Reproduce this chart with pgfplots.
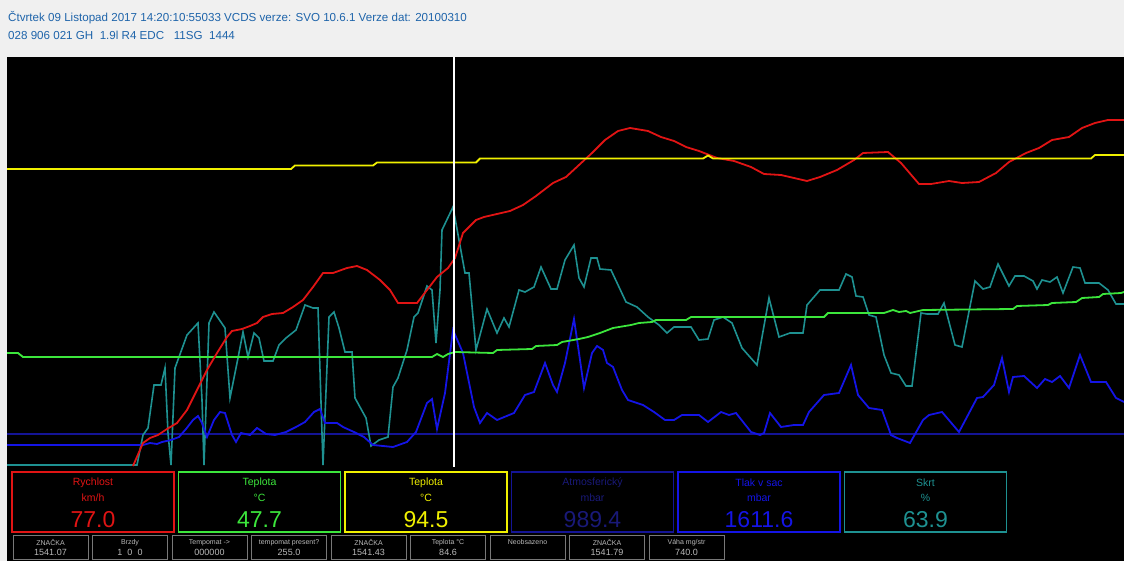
\documentclass[border=0pt]{standalone}
\usepackage{pgfplots}
\pgfplotsset{compat=1.18}
\usepackage{fontspec}
\setmainfont{Liberation Sans}
\definecolor{bgg}{RGB}{240,240,240}
\definecolor{hdr}{RGB}{30,100,170}
\definecolor{cred}{RGB}{225,20,20}
\definecolor{cyel}{RGB}{240,240,0}
\definecolor{cgrn}{RGB}{60,230,60}
\definecolor{cnavy}{RGB}{20,20,150}
\definecolor{cnavyt}{RGB}{25,25,120}
\definecolor{cblue}{RGB}{20,20,230}
\definecolor{cteal}{RGB}{30,145,145}
\definecolor{sgray}{RGB}{120,120,120}
\definecolor{stxt}{RGB}{185,185,185}
\begin{document}
\begin{tikzpicture}
\fill[bgg] (0,0) rectangle (1124pt,561pt);
\fill[black] (7pt,0) rectangle (1124pt,504pt);
% header
\node[anchor=west,inner sep=0,text=hdr,font=\fontsize{11.6}{13}\selectfont] at (8pt,543pt) {Čtvrtek 09 Listopad 2017 14:20:10:55033 VCDS verze: SVO 10.6.1 Verze dat: 20100310};
\node[anchor=west,inner sep=0,text=hdr,font=\fontsize{11.6}{13}\selectfont] at (8pt,526pt) {028 906 021 GH\ \ 1.9l R4 EDC\ \ \ 11SG\ \ 1444};
\begin{axis}[at={(7pt,94pt)}, anchor=south west, scale only axis,
  width=1117pt, height=410pt, xmin=7, xmax=1124, ymin=57, ymax=467,
  y dir=reverse, axis lines=none, clip=true]
% navy flat (atmospheric)
\addplot[cnavy, line width=2pt] coordinates {(7,433.5) (1124,433.5)};
% teal (throttle)
\addplot[cteal, line width=1.6pt] coordinates {
(7,465) (137,465) (143,435) (148,428) (154,385) (161,385) (165,368) (168,433) (171,465)
(175,368) (179,357) (187,335) (198,323) (202,400) (204,465) (209,323) (214,312) (225,328)
(230,398) (238,358) (243,332) (248,357) (254,333) (259,338) (264,361) (273,361) (279,345)
(286,338) (296,330) (305,305) (313,308) (318,308) (323,465) (329,317) (334,312) (339,328)
(345,352) (352,352) (355,398) (366,418) (371,446) (379,440) (388,437) (393,387) (398,378)
(407,350) (414,317) (418,313) (427,286) (432,290) (436,343) (440,290) (442,230) (453,207)
(465,273) (469,273) (476,350) (487,309) (497,333) (504,318) (509,327) (519,290) (525,292)
(534,287) (541,267) (551,289) (557,289) (565,260) (574,245) (579,278) (584,287) (591,258)
(597,258) (600,269) (611,270) (626,302) (637,307) (648,317) (659,325) (667,333) (674,327)
(691,327) (699,340) (708,339) (714,320) (723,317) (732,323) (742,348) (757,365) (769,298)
(779,337) (790,333) (803,333) (807,305) (820,290) (839,290) (846,274) (852,277) (856,296)
(863,297) (869,315) (876,317) (884,355) (891,373) (899,375) (906,386) (912,386) (921,313)
(927,314) (938,314) (944,303) (955,345) (962,347) (975,281) (983,289) (990,287) (998,264)
(1009,286) (1015,276) (1024,276) (1033,281) (1037,289) (1042,280) (1050,282) (1057,277)
(1063,293) (1073,267) (1080,268) (1085,283) (1099,283) (1108,290) (1116,304) (1124,304)};
% blue (intake pressure)
\addplot[cblue, line width=1.8pt] coordinates {
(7,445) (143,445) (150,443) (157,444) (162,442) (171,440) (179,437) (186,429) (193,420)
(198,416) (202,423) (207,437) (214,420) (220,412) (225,413) (232,435) (236,442) (241,433)
(250,435) (257,428) (266,434) (275,435) (286,432) (296,427) (305,422) (314,412) (320,409)
(325,423) (332,423) (337,423) (343,427) (354,432) (364,437) (373,445) (393,447) (407,442)
(416,432) (427,403) (432,399) (437,429) (445,393) (453,330) (463,353) (474,407) (480,423)
(487,413) (497,420) (514,413) (525,395) (534,392) (545,363) (553,385) (557,392) (565,363)
(574,319) (579,353) (584,388) (592,353) (597,346) (603,350) (607,363) (613,367) (622,390)
(628,400) (643,405) (654,412) (665,420) (674,420) (682,415) (699,415) (708,422) (721,412)
(729,415) (736,413) (751,432) (760,435) (764,433) (770,413) (781,427) (794,425) (803,425)
(809,412) (824,395) (839,393) (851,365) (858,395) (869,408) (882,410) (891,435) (897,438)
(910,443) (923,420) (929,415) (942,412) (959,432) (977,398) (983,397) (994,385) (1002,358)
(1009,392) (1013,377) (1024,376) (1037,388) (1045,379) (1052,382) (1060,376) (1069,388)
(1080,355) (1091,382) (1106,382) (1116,398) (1124,402)};
% green (coolant)
\addplot[cgrn, line width=1.8pt] coordinates {
(7,353) (18,353) (23,357) (432,357) (437,354) (443,357) (448,354) (455,352) (493,353)
(497,350) (532,349) (536,346) (557,345) (562,342) (579,339) (588,337) (600,333) (613,328)
(631,325) (639,323) (652,322) (656,320) (686,320) (691,317) (824,317) (828,313) (884,313)
(893,310) (899,312) (906,311) (910,313) (923,310) (1013,309) (1017,306) (1048,305) (1052,303)
(1076,302) (1082,298) (1099,297) (1103,294) (1121,293) (1124,292)};
% red (speed)
\addplot[cred, line width=1.8pt] coordinates {
(133,466) (143,443) (150,438) (158,435) (167,429) (177,423) (187,410) (197,390) (207,370)
(217,353) (227,337) (232,331) (242,329) (250,326) (257,323) (263,317) (272,314) (283,313)
(293,307) (303,300) (313,287) (323,273) (333,273) (347,268) (357,266) (367,270) (380,280)
(390,290) (398,303) (417,303) (427,290) (437,277) (448,268) (455,258) (463,233) (476,220)
(484,217) (497,214) (510,211) (523,205) (536,196) (553,183) (566,177) (579,165) (592,153)
(605,140) (618,131) (630,128) (648,131) (661,137) (674,141) (686,147) (699,151) (717,158)
(734,161) (751,167) (764,174) (781,175) (794,178) (807,181) (820,177) (837,170) (854,160)
(863,153) (888,152) (901,163) (919,184) (931,184) (949,181) (962,183) (979,182) (996,173)
(1009,162) (1026,153) (1039,148) (1052,140) (1069,137) (1082,128) (1095,123) (1108,120) (1124,120)};
% yellow (oil temp)
\addplot[cyel, line width=1.8pt] coordinates {
(7,169) (291,169) (295,165.5) (373,165.5) (377,162.5) (476,162.5) (480,158.5) (703,158.5)
(708,155.5) (713,158.5) (1091,158.5) (1095,155) (1124,155)};
% cursor
\addplot[white, line width=1.6pt] coordinates {(454,57) (454,467)};
\end{axis}
% value boxes
\foreach \i/\col/\tcol/\ta/\tb/\val in {
 0/cred/cred/Rychlost/km\slash h/77.0,
 1/cgrn/cgrn/Teplota/°C/47.7,
 2/cyel/cyel/Teplota/°C/94.5,
 3/cnavy/cnavyt/Atmosferický/mbar/989.4,
 4/cblue/cblue/Tlak v sac/mbar/1611.6,
 5/cteal/cteal/Skrt/\%/63.9}{
 \pgfmathsetmacro{\xa}{12+\i*166.5}
 \draw[\col, line width=1.6pt] (\xa pt,29pt) rectangle ({(\xa+162)*1pt},89pt);
 \node[text=\tcol,font=\fontsize{10.5}{12}\selectfont,inner sep=0] at ({(\xa+81)*1pt},78pt) {\ta};
 \node[text=\tcol,font=\fontsize{10.5}{12}\selectfont,inner sep=0] at ({(\xa+81)*1pt},63pt) {\tb};
 \node[text=\tcol,font=\fontsize{23}{25}\selectfont,inner sep=0] at ({(\xa+81)*1pt},41pt) {\val};
}
% small boxes
\foreach \j/\la/\lb in {
 0/ZNAČKA/1541.07,
 1/Brzdy/1\ \ 0\ \ 0,
 2/Tempomat ->/000000,
 3/tempomat present?/255.0,
 4/ZNAČKA/1541.43,
 5/Teplota °C/84.6,
 6/Neobsazeno/,
 7/ZNAČKA/1541.79,
 8/Váha mg\slash str/740.0}{
 \pgfmathsetmacro{\xb}{13+\j*79.5}
 \draw[sgray, line width=1pt] (\xb pt,1pt) rectangle ({(\xb+75)*1pt},25pt);
 \node[text=stxt,font=\fontsize{7}{8}\selectfont,inner sep=0] at ({(\xb+37.5)*1pt},18.5pt) {\la};
 \node[text=stxt,font=\fontsize{9}{10}\selectfont,inner sep=0] at ({(\xb+37.5)*1pt},9pt) {\lb};
}
\end{tikzpicture}
\end{document}
